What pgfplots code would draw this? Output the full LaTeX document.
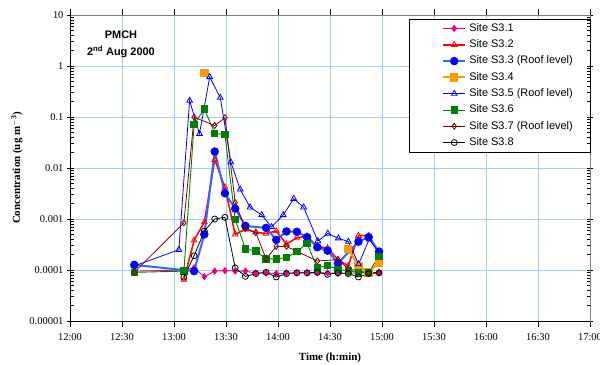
\documentclass[border=0pt]{standalone}
\usepackage{fontspec}
\setmainfont{Liberation Serif}
\newfontfamily\arialfont{Liberation Sans}
\usepackage{pgfplots}
\pgfplotsset{compat=1.18}
\definecolor{gridblue}{RGB}{160,205,250}
\definecolor{sorange}{RGB}{255,153,0}
\definecolor{sgreen}{RGB}{0,128,0}
\definecolor{sdarkred}{RGB}{128,0,0}
\definecolor{sblueline}{RGB}{51,102,255}
\begin{document}
\begin{tikzpicture}
\useasboundingbox (0,0) rectangle (600bp,365bp);
\begin{axis}[
  at={(70bp,44bp)}, anchor=south west,
  scale only axis, width=520bp, height=306bp,
  ymode=log, ymin=1e-5, ymax=10,
  xmin=0, xmax=300,
  xtick={0,30,...,300},
  xticklabels={12:00,12:30,13:00,13:30,14:00,14:30,15:00,15:30,16:00,16:30,17:00},
  ytick={1e-5,1e-4,1e-3,1e-2,1e-1,1,10},
  yticklabels={0.00001,0.0001,0.001,0.01,0.1,1,10},
  yminorticks=false,
  grid=major, major grid style={gridblue, line width=1bp},
  xtick align=outside, ytick align=center, major tick length=6bp,
  tick style={black, line width=0.6bp},
  axis line style={draw=gray, line width=0.8bp},
  ticklabel style={font=\fontsize{10.5}{12}\selectfont},
  xticklabel style={yshift=-3bp},
  xlabel={\bfseries Time (h:min)},
  xlabel style={yshift=-5bp},
  ylabel={\bfseries Concentration (ug m$^{\mathbf{-3}}$)},
  label style={font=\fontsize{11}{13}\selectfont},
  unbounded coords=jump,
  legend cell align=left,
  legend style={at={(1,1)}, anchor=north east, yshift=-4bp, draw=black, fill=white,
     font=\arialfont\fontsize{11}{13}\selectfont, inner xsep=16bp, inner ysep=3bp,
     row sep=3.8bp, column sep=2bp,
     nodes={inner sep=1bp, text height=8bp, text depth=2.5bp}},
  legend image code/.code={\path[draw=none,fill=none] (-18bp,-1bp) rectangle (-18bp,1bp);
     \draw[mark repeat=2,mark phase=2,#1] plot coordinates {(0bp,0bp) (11bp,0bp) (22bp,0bp)};},
]
\addplot[magenta, line width=0.9bp, mark=diamond*, mark size=3bp, mark options={solid, fill=magenta}] coordinates {
(37.1,9.5e-5) (65.7,1.0e-4) (71.6,1.1e-4) (77.5,7.4e-5) (83.5,9.5e-5) (89.4,9.7e-5) (95.3,9.5e-5) (101.2,9.5e-5) (107.2,8.7e-5) (113.1,8.8e-5) (119.0,8.5e-5) (124.9,8.7e-5) (130.9,8.8e-5) (136.8,8.8e-5) (142.7,8.8e-5) (148.6,8.8e-5) (154.6,8.6e-5) (160.5,8.6e-5) (166.4,8.7e-5) (172.3,8.8e-5) (178.3,9.0e-5)};
\addlegendentry{Site S3.1}
\addplot[red, line width=1.5bp, mark=triangle, mark size=3.3bp, mark options={solid, fill=white, line width=0.8bp}] coordinates {
(65.7,6.5e-5) (71.6,3.8e-4) (77.5,8.7e-4) (83.5,1.45e-2) (89.4,4.2e-3) (95.3,5.0e-4) (101.2,6.3e-4) (107.2,5.5e-4) (113.1,5.2e-4) (119.0,5.8e-4) (124.9,3.2e-4) (130.9,4.3e-4) (136.8,4.6e-4) (142.7,2.9e-4) (148.6,2.7e-4) (154.6,1.6e-4) (160.5,1.2e-4) (166.4,4.7e-4) (172.3,4.7e-4) (178.3,2.2e-4)};
\addlegendentry{Site S3.2}
\addplot[sblueline, line width=2bp, mark=*, mark size=3.2bp, mark options={solid, draw=blue, fill=blue}] coordinates {
(37.1,1.26e-4) (71.6,9.5e-5) (77.5,5.0e-4) (83.5,2.1e-2) (89.4,3.2e-3) (95.3,1.6e-3) (101.2,7.3e-4) (113.1,6.7e-4) (119.0,3.9e-4) (124.9,5.7e-4) (130.9,5.6e-4) (136.8,4.4e-4) (142.7,2.8e-4) (148.6,2.4e-4) (154.6,1.35e-4) (166.4,3.6e-4) (172.3,4.4e-4) (178.3,2.3e-4)};
\addlegendentry{Site S3.3 (Roof level)}
\addplot[sorange, line width=2bp, mark=square*, mark size=3.2bp, mark options={solid, fill=sorange}] coordinates {
(77.5,0.72) (120,nan) (160.5,2.6e-4) (166.4,1.2e-4) (172.3,9.0e-5) (178.3,1.4e-4)};
\addlegendentry{Site S3.4}
\addplot[blue, line width=0.8bp, mark=triangle, mark size=3.3bp, mark options={solid, fill=white}] coordinates {
(37.1,1.2e-4) (62.8,2.5e-4) (69.0,0.21) (74.7,0.047) (80.6,0.61) (86.7,0.24) (92.8,0.013) (98.2,3.8e-3) (103.9,1.7e-3) (110.6,1.2e-3) (116.3,7.0e-4) (123.0,1.2e-3) (129.1,2.5e-3) (134.8,1.7e-3) (143.0,3.7e-4) (148.7,5.2e-4) (154.8,4.2e-4) (160.6,3.6e-4) (166.5,1.3e-4) (172.6,4.0e-4) (178.3,2.2e-4)};
\addlegendentry{Site S3.5 (Roof level)}
\addplot[sgreen, line width=0.9bp, mark=square*, mark size=3.2bp, mark options={solid, fill=sgreen}] coordinates {
(37.1,9.0e-5) (65.7,9.5e-5) (71.6,7.2e-2) (77.5,0.143) (83.5,4.8e-2) (89.4,4.5e-2) (95.3,9.7e-4) (101.2,2.6e-4) (107.2,2.35e-4) (113.1,1.65e-4) (119.0,1.65e-4) (124.9,1.75e-4) (130.9,2.3e-4) (136.8,3.3e-4) (142.7,1.1e-4) (148.6,1.22e-4) (154.6,1.03e-4) (160.5,9.5e-5) (166.4,9.0e-5) (172.3,9.0e-5) (178.3,1.85e-4)};
\addlegendentry{Site S3.6}
\addplot[sdarkred, line width=0.8bp, mark=diamond, mark size=3bp, mark options={solid, fill=white}] coordinates {
(37.1,9.0e-5) (65.7,8.4e-4) (71.6,9.9e-2) (83.5,6.8e-2) (89.4,9.7e-2) (95.3,2.1e-3) (101.2,6.5e-4) (107.2,5.4e-4) (113.1,1.65e-4) (119.0,2.9e-4) (124.9,2.9e-4) (142.7,1.5e-4) (154.6,1.6e-4) (160.5,1.05e-4) (172.3,8.8e-5) (178.3,8.8e-5)};
\addlegendentry{Site S3.7 (Roof level)}
\addplot[black, line width=0.8bp, mark=o, mark size=3bp, mark options={solid, fill=white}] coordinates {
(65.7,7.2e-5) (71.6,1.9e-4) (77.5,5.8e-4) (83.5,1.0e-3) (89.4,1.08e-3) (95.3,1.1e-4) (101.2,7.5e-5) (107.2,8.5e-5) (113.1,9.0e-5) (119.0,7.3e-5) (124.9,8.5e-5) (130.9,8.8e-5) (136.8,8.8e-5) (142.7,9.0e-5) (148.6,8.2e-5) (154.6,8.8e-5) (160.5,8.5e-5) (166.4,7.3e-5) (172.3,8.5e-5) (178.3,8.8e-5)};
\addlegendentry{Site S3.8}
\draw[black, line width=1bp] (rel axis cs:0,1) -- (rel axis cs:0,0) -- (rel axis cs:1,0);
\node[font=\arialfont\bfseries\fontsize{11}{17}\selectfont, align=center] at (rel axis cs:0.098,0.905) {PMCH\\2\textsuperscript{nd} Aug 2000};
\end{axis}
\begin{axis}[
  at={(70bp,44bp)}, anchor=south west,
  scale only axis, width=520bp, height=306bp,
  ymode=log, ymin=1e-5, ymax=10, xmin=0, xmax=300,
  xtick=\empty, ytick={1e-5,1e-4,1e-3,1e-2,1e-1,1,10}, yticklabels={},
  yminorticks=true, major tick length=0pt, minor tick length=3.5bp, tick align=inside,
  tick style={black, line width=0.6bp},
  axis line style={draw=none}, grid=none,
]
\end{axis}
\end{tikzpicture}
\end{document}
